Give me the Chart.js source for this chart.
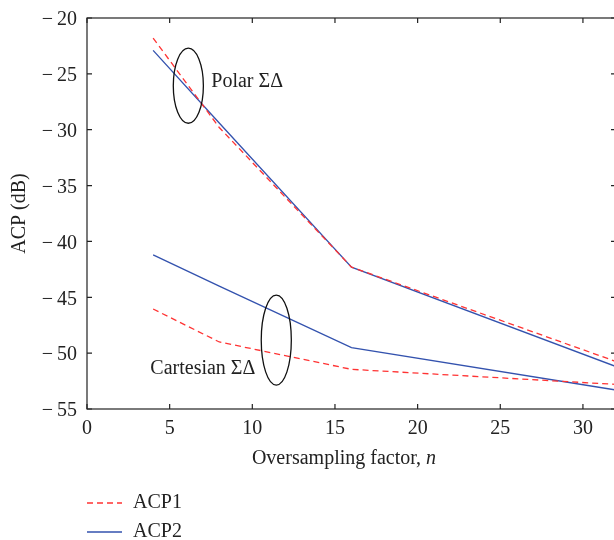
<!DOCTYPE html>
<html>
<head>
<meta charset="utf-8">
<script src="https://cdn.jsdelivr.net/npm/chart.js@4/dist/chart.umd.min.js"></script>
<style>
  html, body { margin: 0; padding: 0; background: #fff; overflow: hidden; }
</style>
</head>
<body>
<canvas id="acpChart" width="620" height="540"></canvas>
<script>
// oversampling factors n
const factors = [4, 8, 16, 32];
// Polar sigma-delta
const polarAcp1 = [-21.8, -29.8, -42.3, -50.75];
const polarAcp2 = [-22.9, -29.4, -42.3, -51.2];
// Cartesian sigma-delta
const cartAcp1 = [-46.05, -49.0, -51.45, -52.8];
const cartAcp2 = [-41.2, -44.0, -49.5, -53.3];

const xTicks = [0, 5, 10, 15, 20, 25, 30];
const yTicks = [-55, -50, -45, -40, -35, -30, -25, -20];

// ellipses round each group, in data units
const groupMarks = [
    { label: 'Polar ΣΔ', cx: 6.13, cy: -26.06, rx: 0.91, ry: 3.36, tx: 7.52, ty: -25.73 },
    { label: 'Cartesian ΣΔ', cx: 11.45, cy: -48.83, rx: 0.91, ry: 4.03, tx: 3.83, ty: -51.42 }
];

const red = '#ff3333';
const blue = '#3352ae';
const ink = '#222';
const serif = '"Liberation Serif", "DejaVu Serif", serif';
const fs = 20;

const toPoints = (ys) => factors.map((x, i) => ({ x: x, y: ys[i] }));
const minus = (v) => v < 0 ? '\u2212\u2009' + Math.abs(v) : '' + v;

const frame = {
    id: 'frame',
    afterDraw(chart) {
        const { ctx, chartArea: a, scales: { x, y } } = chart;
        ctx.save();
        ctx.strokeStyle = ink;
        ctx.lineWidth = 1.2;
        ctx.strokeRect(a.left, a.top, a.right - a.left, a.bottom - a.top);
        ctx.beginPath();
        xTicks.forEach(v => {
            const px = x.getPixelForValue(v);
            ctx.moveTo(px, a.bottom); ctx.lineTo(px, a.bottom - 5);
            ctx.moveTo(px, a.top); ctx.lineTo(px, a.top + 5);
        });
        yTicks.forEach(v => {
            const py = y.getPixelForValue(v);
            ctx.moveTo(a.left, py); ctx.lineTo(a.left + 5, py);
            ctx.moveTo(a.right, py); ctx.lineTo(a.right - 5, py);
        });
        ctx.stroke();

        // group ellipses and labels
        ctx.lineWidth = 1.3;
        ctx.strokeStyle = '#111';
        ctx.fillStyle = ink;
        ctx.font = fs + 'px ' + serif;
        ctx.textBaseline = 'middle';
        groupMarks.forEach(g => {
            const cx = x.getPixelForValue(g.cx), cy = y.getPixelForValue(g.cy);
            const rx = x.getPixelForValue(g.cx + g.rx) - cx;
            const ry = cy - y.getPixelForValue(g.cy + g.ry);
            ctx.beginPath();
            ctx.ellipse(cx, cy, rx, ry, 0, 0, Math.PI * 2);
            ctx.stroke();
            ctx.fillText(g.label, x.getPixelForValue(g.tx), y.getPixelForValue(g.ty));
        });

        // x axis title with italic n
        const t1 = 'Oversampling factor, ';
        ctx.font = fs + 'px ' + serif;
        const w1 = ctx.measureText(t1).width;
        ctx.font = 'italic ' + fs + 'px ' + serif;
        const w2 = ctx.measureText('n').width;
        const left = 344 - (w1 + w2) / 2;
        ctx.font = fs + 'px ' + serif;
        ctx.fillText(t1, left, 459);
        ctx.font = 'italic ' + fs + 'px ' + serif;
        ctx.fillText('n', left + w1, 459);

        // legend, one row per series
        ctx.font = fs + 'px ' + serif;
        const rows = [
            { text: 'ACP1', color: red, dash: [6, 4], y: 503 },
            { text: 'ACP2', color: blue, dash: [], y: 532 }
        ];
        rows.forEach(r => {
            ctx.beginPath();
            ctx.strokeStyle = r.color;
            ctx.lineWidth = 1.3;
            ctx.setLineDash(r.dash);
            ctx.moveTo(87, r.y); ctx.lineTo(122, r.y);
            ctx.stroke();
            ctx.setLineDash([]);
            ctx.fillText(r.text, 133, r.y);
        });
        ctx.restore();
    }
};

const lineStyle = (color, dashed) => ({
    borderColor: color,
    backgroundColor: color,
    borderWidth: 1.3,
    borderDash: dashed ? [6, 4] : [],
    pointRadius: 0,
    tension: 0,
    fill: false
});

new Chart(document.getElementById('acpChart'), {
    type: 'line',
    data: {
        datasets: [
            { label: 'ACP1', data: toPoints(polarAcp1), ...lineStyle(red, true) },
            { label: 'ACP2', data: toPoints(polarAcp2), ...lineStyle(blue, false) },
            { label: 'ACP1 cartesian', data: toPoints(cartAcp1), ...lineStyle(red, true) },
            { label: 'ACP2 cartesian', data: toPoints(cartAcp2), ...lineStyle(blue, false) }
        ]
    },
    options: {
        responsive: false,
        animation: false,
        devicePixelRatio: 1,
        layout: { padding: { top: 18, right: 4, bottom: 66, left: 0 } },
        plugins: { legend: { display: false }, tooltip: { enabled: false } },
        scales: {
            x: {
                type: 'linear',
                min: 0,
                max: 32,
                afterBuildTicks: (s) => { s.ticks = xTicks.map(v => ({ value: v })); },
                afterFit: (s) => { s.height = 65; },
                grid: { display: false, drawTicks: false },
                border: { display: false },
                ticks: {
                    color: ink,
                    padding: 8,
                    maxRotation: 0,
                    font: { family: serif, size: fs },
                    callback: (v) => minus(v)
                }
            },
            y: {
                type: 'linear',
                min: -55,
                max: -20,
                afterBuildTicks: (s) => { s.ticks = yTicks.map(v => ({ value: v })); },
                afterFit: (s) => { s.width = 87; },
                grid: { display: false, drawTicks: false },
                border: { display: false },
                title: {
                    display: true,
                    text: 'ACP (dB)',
                    color: ink,
                    font: { family: serif, size: fs },
                    padding: { top: 8 }
                },
                ticks: {
                    color: ink,
                    padding: 10,
                    labelOffset: 2,
                    font: { family: serif, size: fs, lineHeight: 0.5 },
                    callback: (v) => minus(v)
                }
            }
        }
    },
    plugins: [frame]
});
</script>
</body>
</html>
